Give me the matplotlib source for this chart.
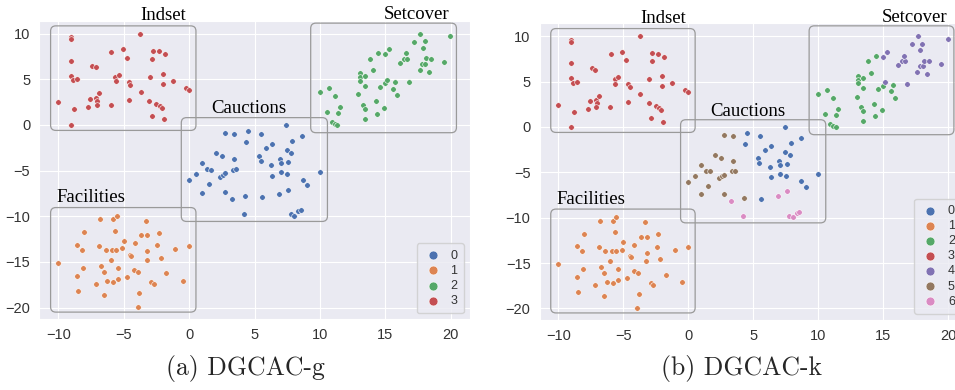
import matplotlib
matplotlib.use("Agg")
import matplotlib.pyplot as plt
from matplotlib.patches import FancyBboxPatch
import seaborn as sns

# t-SNE embedding, grouped by problem type
indset_x = [-10, -9.0, -9.0, -9.06, -9.06, -8.9, -8.55, -8.8, -9.06, -7.45, -7.15, -7.55, -7.7,
            -7.1, -7.05, -7.07, -6.87, -5.97, -6.0, -5.64, -5.39, -5.62, -5.08, -4.78, -4.62,
            -4.5, -4.62, -3.76, -3.7, -3.0, -2.79, -2.81, -2.33, -1.87, -2.0, -2.0, -1.26,
            -3.04, -2.53, -2.23, -2.1, -2.86, -1.92, -0.24, 0.0]
indset_y = [2.47, 9.6, 9.4, 7.0, 5.4, 4.9, 5.0, 1.7, 0.0, 6.45, 6.3, 2.85, 2.0,
            3.0, 2.65, 2.15, 3.45, 8.0, 2.2, 5.3, 5.47, 4.78, 8.28, 7.33, 4.7,
            4.4, 2.73, 10.0, 3.6, 5.3, 8.14, 7.22, 8.06, 7.73, 5.6, 4.48, 4.8,
            2.6, 2.3, 2.07, 1.9, 0.98, 0.6, 4.08, 3.86]

setcover_x = [10.0, 10.7, 11.13, 10.5, 11.5, 11.36, 10.92, 11.13, 11.33, 12.94, 13.04, 13.04,
              13.04, 13.47, 13.42, 13.3, 13.42, 13.45, 13.85, 14.08, 14.41, 14.29, 14.39, 14.62,
              14.97, 15.3, 14.9, 14.97, 15.1, 15.56, 15.77, 15.92, 16.12, 16.45, 16.63, 16.6,
              16.83, 17.17, 17.65, 18.0, 17.85, 17.62, 17.8, 18.03, 18.1, 18.33, 18.5, 19.46, 19.97]
setcover_y = [3.6, 4.05, 3.2, 1.45, 2.0, 1.27, 0.28, 0.1, 0.0, 3.35, 5.65, 5.2,
              4.85, 5.4, 4.3, 2.2, 1.78, 0.65, 7.22, 5.98, 7.88, 2.58, 1.2, 4.15,
              7.73, 8.28, 1.82, 4.55, 4.92, 3.93, 4.67, 3.24, 6.78, 7.22, 7.22, 7.88,
              4.74, 9.12, 10.0, 9.2, 8.47, 6.05, 6.7, 6.7, 7.3, 5.83, 7.22, 6.9, 9.7]
setcover_k = [2, 2, 2, 2, 2, 2, 2, 2, 2, 2, 2, 2,
              2, 2, 2, 2, 2, 2, 2, 2, 2, 2, 2, 2,
              4, 4, 2, 2, 4, 2, 2, 2, 4, 4, 4, 4,
              4, 4, 4, 4, 4, 4, 4, 4, 4, 4, 4, 4, 4]

cauctions_x = [0.0, 0.5, 0.98, 0.98, 1.39, 1.65, 1.54, 2.03, 2.39, 2.56, 2.74, 2.54, 2.72,
               2.72, 3.33, 3.58, 3.4, 3.43, 3.3, 4.35, 4.53, 4.25, 4.2, 5.52, 5.37, 5.47,
               5.6, 5.9, 6.36, 6.28, 6.33, 6.97, 7.02, 7.02, 6.87, 7.43, 7.46, 7.86, 7.79,
               7.56, 7.51, 7.58, 8.65, 8.68, 9.04, 9.98, 7.76, 8.02, 8.35, 8.53]
cauctions_y = [-6.08, -5.42, -4.21, -7.43, -4.83, -4.9, -6.48, -3.04, -5.67, -5.45, -5.3, -3.37, -0.92,
               -7.39, -4.9, -4.87, -3.77, -1.0, -8.16, -1.87, -0.63, -7.8, -9.77, -1.0, -3.41, -3.92,
               -7.9, -2.5, -2.06, -4.43, -5.56, -3.7, -4.18, -5.2, -7.57, 0.0, -2.79, -1.8, -3.08,
               -4.07, -5.42, -7.1, -1.22, -6.0, -6.62, -5.2, -9.8, -9.95, -9.47, -9.36]
cauctions_k = [5, 5, 5, 5, 5, 5, 5, 5, 5, 5, 5, 5, 5,
               5, 5, 5, 5, 5, 6, 0, 0, 5, 6, 0, 0, 0,
               0, 0, 0, 0, 0, 0, 0, 0, 6, 0, 0, 0, 0,
               0, 0, 6, 0, 0, 0, 0, 6, 6, 6, 6]

facilities_x = [-10, -8.57, -8.17, -8.01, -8.09, -8.57, -8.5, -7.15, -6.89, -6.81, -6.74, -6.48,
                -6.38, -6.3, -6.5, -6.0, -5.87, -5.59, -5.8, -5.54, -5.64, -5.8, -5.41, -5.41,
                -5.1, -5.0, -4.72, -4.5, -4.45, -4.16, -4.2, -3.88, -3.93, -3.8, -3.68, -3.32,
                -3.22, -3.2, -3.25, -2.89, -2.69, -2.43, -2.33, -2.15, -1.74, -1.05, -0.47, 0.0]
facilities_y = [-15.1, -13.16, -13.71, -11.78, -15.65, -16.56, -18.2, -17.37, -13.27, -10.35, -15.4, -16.1,
                -13.71, -17.1, -18.68, -14.82, -13.71, -13.71, -10.31, -9.95, -11.63, -17.2, -15.65, -16.85,
                -13.53, -12.73, -16.67, -14.26, -14.37, -12.98, -15.9, -16.09, -19.92, -18.39, -12.1, -10.53,
                -12.1, -13.86, -14.77, -17.2, -17.4, -13.2, -11.81, -14.52, -16.27, -13.6, -17.1, -13.27]

# label of each group in DGCAC-g
group_label_g = {"cauctions": 0, "facilities": 1, "setcover": 2, "indset": 3}

# boxes (x0, y0, x1, y1) and title positions
box_names = ["Indset", "Setcover", "Cauctions", "Facilities"]
boxes = [(-10.59, -0.6, 0.52, 10.85), (9.29, -0.85, 20.43, 11.15),
         (-0.6, -10.57, 10.57, 0.8), (-10.59, -20.5, 0.52, -9.05)]
box_text_pos = [(-1.95, 12.0), (17.4, 12.1), (4.55, 1.75), (-7.5, -8.0)]

palette = sns.color_palette("deep")

sns.set_style("darkgrid")
plt.rcParams['font.family'] = ['Liberation Sans', 'DejaVu Sans']

fig = plt.figure(figsize=(9.55, 3.9), dpi=100)
ax1 = fig.add_axes([0.0412, 0.181, 0.451, 0.766])
ax2 = fig.add_axes([0.565, 0.179, 0.448, 0.761])


def split(xs, ys, labels):
    out = {}
    for x, y, l in zip(xs, ys, labels):
        out.setdefault(l, ([], []))
        out[l][0].append(x)
        out[l][1].append(y)
    return out


def draw(ax, groups):
    for lab in sorted(groups):
        xs, ys = groups[lab]
        ax.scatter(xs, ys, s=16, color=palette[lab], edgecolor='white', linewidth=0.4,
                   label=str(lab), zorder=3)
    for name, (x0, y0, x1, y1), (tx, ty) in zip(box_names, boxes, box_text_pos):
        ax.add_patch(FancyBboxPatch((x0, y0), x1 - x0, y1 - y0,
                                    boxstyle="round,pad=0,rounding_size=0.4",
                                    mutation_aspect=1.43, fc='none', ec='#9a9a9a',
                                    lw=0.9, zorder=4))
        ax.text(tx, ty, name, ha='center', va='center', fontsize=13.5,
                family='Liberation Serif', color='black', zorder=5)
    ax.set_xlim(-11.45, 21.47)
    ax.set_ylim(-21.3, 11.42)
    ax.set_xticks([-10, -5, 0, 5, 10, 15, 20])
    ax.set_yticks([-20, -15, -10, -5, 0, 5, 10])
    ax.tick_params(labelsize=10.5, colors='#333333', pad=3)
    leg = ax.legend(loc='lower right', fontsize=9, markerscale=1.6, handletextpad=0.6,
                    labelspacing=0.25, borderpad=0.5, handlelength=1.6,
                    frameon=True, facecolor='#eaeaf2', edgecolor='#cccccc')
    for t in leg.get_texts():
        t.set_color('#333333')


# DGCAC-g
g_groups = {}
for key, xs, ys in [("cauctions", cauctions_x, cauctions_y),
                    ("facilities", facilities_x, facilities_y),
                    ("setcover", setcover_x, setcover_y),
                    ("indset", indset_x, indset_y)]:
    g_groups[group_label_g[key]] = (xs, ys)
draw(ax1, g_groups)

# DGCAC-k
k_groups = split(cauctions_x, cauctions_y, cauctions_k)
for lab, pts in split(setcover_x, setcover_y, setcover_k).items():
    k_groups[lab] = pts
k_groups[1] = (facilities_x, facilities_y)
k_groups[3] = (indset_x, indset_y)
draw(ax2, k_groups)

fig.text(0.2565, 0.0385, "(a) DGCAC-g", ha='center', va='baseline', fontsize=18.5, family='cmr10')
fig.text(0.776, 0.0385, "(b) DGCAC-k", ha='center', va='baseline', fontsize=18.5, family='cmr10')

fig.savefig("out.png", dpi=100)
